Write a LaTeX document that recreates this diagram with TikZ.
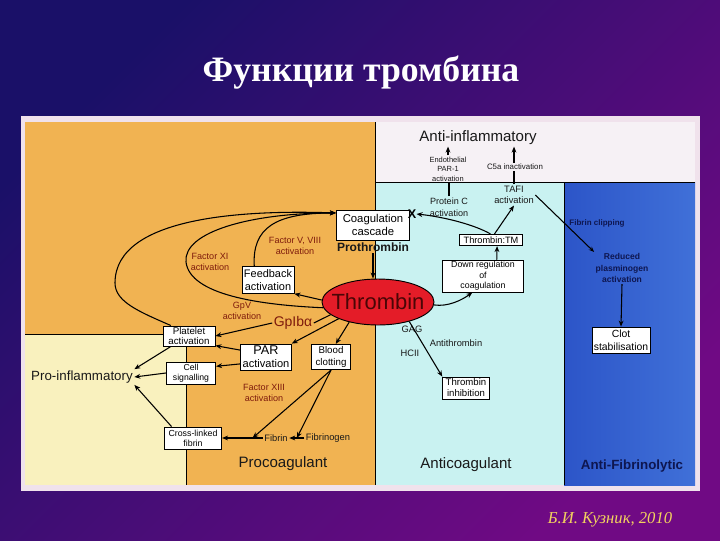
\documentclass[tikz,border=0pt]{standalone}
\usepackage{fontspec}
\setmainfont{Liberation Sans}
\newfontfamily\slideserif{Liberation Serif}
\usetikzlibrary{shapes.geometric,arrows.meta,calc}

\definecolor{slideA}{HTML}{1A1068}
\definecolor{slideB}{HTML}{700A84}
\definecolor{frameink}{HTML}{F0E2EC}
\definecolor{procoagfill}{HTML}{F1B352}
\definecolor{proinflfill}{HTML}{F9F1BE}
\definecolor{antiinflfill}{HTML}{F6F1F5}
\definecolor{anticoagfill}{HTML}{C9F2F1}
\definecolor{antifibrdark}{HTML}{2C55C8}
\definecolor{antifibrlight}{HTML}{4070D8}
\definecolor{factorred}{HTML}{7E1A0C}
\definecolor{fibrnavy}{HTML}{0E1650}
\definecolor{thrombred}{HTML}{E41C28}
\definecolor{thrombink}{HTML}{4A0606}
\definecolor{authorgold}{HTML}{F2D25E}

\begin{document}
\begin{tikzpicture}[x=0.75pt,y=0.75pt,yscale=-1,xscale=1,
  wbox/.style={draw=black,fill=white,line width=0.6,align=center,inner sep=0.8pt},
  lbl/.style={align=center,inner sep=1pt,text=black!90},
  redlbl/.style={lbl,text=factorred,font=\fontsize{6.8}{7.8}\selectfont},
  navylbl/.style={lbl,text=fibrnavy},
  zonetitle/.style={lbl,font=\fontsize{11.3}{13}\selectfont},
  arr/.style={line width=0.8,-{Stealth[length=4.5pt,width=3.6pt]}},
  ln/.style={line width=0.8},
  zoneline/.style={line width=0.6,draw=black}
]
%Slide background
\shade[top color=slideA,bottom color=slideB,shading angle=45] (0,0) rectangle (720,540);
\useasboundingbox (0,0) rectangle (720,540);

%Text Node: title and author
\node[text=white,font=\slideserif\bfseries\fontsize{26.8}{32}\selectfont] (title) at (361,73) {Функции тромбина};
\node[text=authorgold,font=\slideserif\itshape\fontsize{12.5}{15}\selectfont] (author) at (610,520) {Б.И. Кузник, 2010};

%Shape: Rectangle -- panel and zones
\fill[frameink] (21,116) rectangle (700,491);
\fill[procoagfill] (25,122) rectangle (375,485);
\fill[proinflfill] (25,334) rectangle (186,485);
\fill[antiinflfill] (375,122) rectangle (695,182);
\fill[anticoagfill] (375,182) rectangle (564,485);
\shade[left color=antifibrdark,right color=antifibrlight] (564,182) rectangle (695,485);
\draw[zoneline] (375,122) -- (375,485);
\draw[zoneline] (375,182) -- (695,182);
\draw[zoneline] (564,182) -- (564,485);
\draw[zoneline] (25,334) -- (186,334) -- (186,485);

%Procoagulant side
\node[wbox,minimum width=55pt,minimum height=22.5pt,font=\fontsize{8.5}{10}\selectfont] (coag) at (373,225) {Coagulation\\cascade};
\node[font=\bfseries\fontsize{9.5}{10}\selectfont,inner sep=0] (xmark) at (412,214) {X};
\node[lbl,font=\bfseries\fontsize{9}{10}\selectfont] (proth) at (373,247) {Prothrombin};
\node[ellipse,draw,line width=0.7,fill=thrombred,minimum width=84pt,minimum height=34.5pt,inner sep=0,text=thrombink,font=\fontsize{16.5}{18}\selectfont] (thr) at (378,302) {\makebox[0pt]{Thrombin}};
\node[wbox,minimum width=39pt,minimum height=20pt,font=\fontsize{8.2}{9.5}\selectfont] (feed) at (268,280) {Feedback\\activation};
\node[redlbl] (fv) at (295,246) {Factor V, VIII\\activation};
\node[redlbl] (fxi) at (210,262) {Factor XI\\activation};
\node[redlbl] (gpv) at (242,311) {GpV\\activation};
\node[lbl,text=factorred,font=\fontsize{10.5}{12}\selectfont] (gpib) at (293,323) {GpIbα};
\node[wbox,minimum width=39pt,minimum height=15pt,font=\fontsize{7.3}{8.2}\selectfont] (plat) at (189,336) {Platelet\\activation};
\node[wbox,minimum width=38pt,minimum height=19.5pt,font=\fontsize{8.3}{9.5}\selectfont] (par) at (266,357) {{\fontsize{9.5}{10}\selectfont PAR}\\activation};
\node[wbox,minimum width=29pt,minimum height=19pt,font=\fontsize{7.3}{8.5}\selectfont] (blood) at (331,357) {Blood\\clotting};
\node[wbox,minimum width=37pt,minimum height=16.5pt,font=\fontsize{6.5}{7.5}\selectfont] (cell) at (191,373) {Cell\\signalling};
\node[lbl,font=\fontsize{10}{12}\selectfont] (proinf) at (82,377) {Pro-inflammatory};
\node[redlbl] (fxiii) at (264,393) {Factor XIII\\activation};
\node[wbox,minimum width=43pt,minimum height=16.5pt,font=\fontsize{6.6}{7.6}\selectfont] (cross) at (193,438) {Cross-linked\\fibrin};
\node[lbl,font=\fontsize{7}{8}\selectfont] (fibrin) at (276,438) {Fibrin};
\node[lbl,font=\fontsize{7}{8}\selectfont] (fibrinogen) at (328,438) {Fibrinogen};
\node[zonetitle] (procoag) at (283,464) {Procoagulant};

%Anticoagulant and anti-inflammatory side
\node[zonetitle] (antiinf) at (478,138) {Anti-inflammatory};
\node[lbl,font=\fontsize{5.6}{7}\selectfont] (endo) at (448,169) {Endothelial\\PAR-1\\activation};
\node[lbl,font=\fontsize{5.9}{7}\selectfont] (c5a) at (515,167) {C5a inactivation};
\node[lbl,font=\fontsize{6.8}{9}\selectfont] (protc) at (449,207) {Protein C\\activation};
\node[lbl,font=\fontsize{7}{8.5}\selectfont] (tafi) at (514,195) {TAFI\\activation};
\node[wbox,minimum width=47pt,minimum height=8.5pt,font=\fontsize{6.9}{8}\selectfont] (ttm) at (491,240) {Thrombin:TM};
\node[wbox,minimum width=61pt,minimum height=24pt,font=\fontsize{6.6}{7.9}\selectfont] (downreg) at (483,276) {Down regulation\\of\\coagulation};
\node[lbl,font=\fontsize{7}{8}\selectfont] (gag) at (412,329) {GAG};
\node[lbl,font=\fontsize{7}{8}\selectfont] (hcii) at (410,353) {HCII};
\node[lbl,font=\fontsize{7}{8}\selectfont] (antithr) at (456,343) {Antithrombin};
\node[wbox,minimum width=35pt,minimum height=16.5pt,font=\fontsize{7.2}{8.3}\selectfont] (thinh) at (466,388) {Thrombin\\inhibition};
\node[zonetitle] (anticoag) at (466,465) {Anticoagulant};

%Anti-fibrinolytic side
\node[navylbl,font=\bfseries\fontsize{6}{7}\selectfont] (fclip) at (597,223) {Fibrin clipping};
\node[navylbl,font=\bfseries\fontsize{6.4}{8.5}\selectfont] (reduced) at (622,268) {Reduced\\plasminogen\\activation};
\node[wbox,minimum width=43.5pt,minimum height=19.5pt,font=\fontsize{7.8}{9.5}\selectfont] (clot) at (621,340) {Clot\\stabilisation};
\node[navylbl,font=\bfseries\fontsize{10}{11}\selectfont] (antifib) at (632,466) {Anti-Fibrinolytic};

%Curve Lines
\draw[arr] (plat.150) .. controls (140,312) and (115,302) .. (115,283) .. controls (115,215) and (250,210) .. (coag.162);
\draw[arr] (thr.186) .. controls (260,305) and (190,295) .. (186,262) .. controls (183,232) and (250,213) .. (coag.162);
\draw[arr] (feed.135) .. controls (252,228) and (275,213) .. (coag.162);
\draw[arr] (thr.-3) .. controls (448,307) and (462,300) .. (downreg.-123);
\draw[arr] (ttm.95) .. controls (475,225) and (445,217) .. (xmark.east);

%Straight Lines
\draw[arr] (proth.south) -- (proth.south |- thr.north);
\draw[arr] (thr.178) -- (feed.south east);
\draw[ln] (thr.195) -- (gpib.east);
\draw[arr] (gpib.west) -- (plat.east);
\draw[arr] (thr.203) -- (par.north east);
\draw[arr] (thr.215) -- (blood.70);
\draw[arr] (par.165) -- (plat.-20);
\draw[arr] (par.195) -- (cell.15);
\draw[arr] (plat.210) -- (proinf.north east);
\draw[arr] (cell.west) -- (proinf.east);
\draw[arr] (cross.152) -- (proinf.south east);
\coordinate (f13) at ($(fibrin.west)!0.25!(cross.east)$);
\coordinate (fg) at ($(fibrin.east)!0.5!(fibrinogen.west)$);
\draw[arr] (blood.south) -- (f13);
\draw[arr] (blood.south) -- (fg);
\draw[arr] (fibrinogen) -- (fibrin);
\draw[arr] (fibrin) -- (cross);

\draw[ln] (protc.north) -- (protc.north |- endo.south);
\draw[arr] (endo.north) -- (endo.north |- antiinf.south);
\draw[ln] (tafi.north) -- (tafi.north |- c5a.south);
\draw[arr] (tafi.north |- c5a.north) -- (tafi.north |- antiinf.south);
\draw[arr] (downreg.50) -- (ttm.-45);
\draw[arr] (ttm.60) -- (tafi.south);
\draw[ln,-{Stealth[length=4pt,width=3.2pt]}] (tafi.east) -- (reduced.north west);
\draw[arr] (reduced.south) -- (clot.north);
\draw[arr] (thr.-32) -- (thinh.north west);

\end{tikzpicture}
\end{document}
